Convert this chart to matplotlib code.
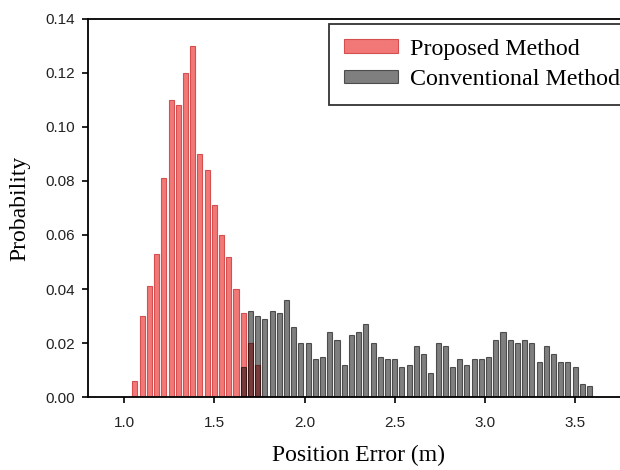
import numpy as np
import matplotlib.pyplot as plt

# bin centres (m) and probabilities
prop_x = [1.06, 1.10, 1.14, 1.18, 1.22, 1.26, 1.30, 1.34, 1.38, 1.42,
          1.46, 1.50, 1.54, 1.58, 1.62, 1.66, 1.70, 1.74]
prop_p = [0.006, 0.030, 0.041, 0.053, 0.081, 0.110, 0.108, 0.120, 0.130, 0.090,
          0.084, 0.071, 0.060, 0.052, 0.040, 0.031, 0.020, 0.012]

conv_x = [1.66, 1.70, 1.74, 1.78, 1.82, 1.86, 1.90, 1.94, 1.98, 2.02,
          2.06, 2.10, 2.14, 2.18, 2.22, 2.26, 2.30, 2.34, 2.38, 2.42,
          2.46, 2.50, 2.54, 2.58, 2.62, 2.66, 2.70, 2.74, 2.78, 2.82,
          2.86, 2.90, 2.94, 2.98, 3.02, 3.06, 3.10, 3.14, 3.18, 3.22,
          3.26, 3.30, 3.34, 3.38, 3.42, 3.46, 3.50, 3.54, 3.58]
conv_p = [0.011, 0.032, 0.030, 0.029, 0.032, 0.031, 0.036, 0.026, 0.020, 0.020,
          0.014, 0.015, 0.024, 0.021, 0.012, 0.023, 0.024, 0.027, 0.020, 0.015,
          0.014, 0.014, 0.011, 0.012, 0.019, 0.016, 0.009, 0.020, 0.019, 0.011,
          0.014, 0.012, 0.014, 0.014, 0.015, 0.021, 0.024, 0.021, 0.020, 0.021,
          0.020, 0.013, 0.019, 0.016, 0.013, 0.013, 0.011, 0.005, 0.004]

fig = plt.figure(figsize=(6.2, 4.7), dpi=100)
ax = fig.add_axes([0.142, 0.155, 0.873, 0.805])

ax.bar(prop_x, prop_p, width=0.028, color='#f27878', edgecolor='#d45050',
       linewidth=0.8, label='Proposed Method', zorder=2)
ax.bar(conv_x, conv_p, width=0.028, color=(0, 0, 0, 0.5),
       edgecolor=(0, 0, 0, 0.6), linewidth=0.8, label='Conventional Method', zorder=3)

ax.set_xlim(0.8, 3.8)
ax.set_ylim(0, 0.14)
ax.set_xticks([1.0, 1.5, 2.0, 2.5, 3.0, 3.5])
ax.set_yticks(np.arange(0, 0.141, 0.02))
ax.set_xticklabels(['1.0', '1.5', '2.0', '2.5', '3.0', '3.5'])
ax.set_yticklabels(['%.2f' % v for v in np.arange(0, 0.141, 0.02)])
ax.tick_params(labelsize=11, direction='out', length=4.3, width=1.2)
ax.tick_params(axis='y', pad=5)
ax.tick_params(axis='x', pad=9)
for lab in ax.get_xticklabels() + ax.get_yticklabels():
    lab.set_family('Liberation Sans')
    lab.set_color('#222222')
for s in ax.spines.values():
    s.set_linewidth(1.3)

ax.set_xlabel('Position Error (m)', family='Liberation Serif', fontsize=17, labelpad=11)
ax.set_ylabel('Probability', family='Liberation Serif', fontsize=17, labelpad=11)

leg = ax.legend(loc='upper left', bbox_to_anchor=(0.531, 0.949),
                bbox_transform=fig.transFigure, frameon=True, fancybox=False,
                prop={'family': 'Liberation Serif', 'size': 17.3},
                handlelength=2.25, handleheight=0.5, borderpad=0.62,
                labelspacing=0.38, handletextpad=0.5, borderaxespad=0)
leg.get_frame().set_edgecolor('black')
leg.get_frame().set_linewidth(1.3)

fig.savefig('out.png', dpi=100)
